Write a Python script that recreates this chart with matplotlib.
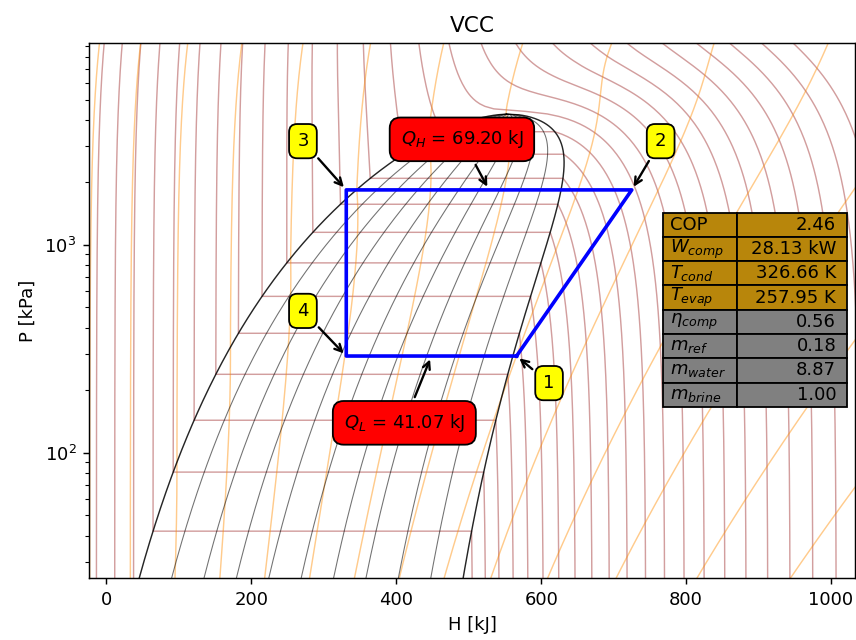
"""
VCC on a propane (R290) P-h chart.

Cycle states / results are read off the reference picture; the background
isolines come from a small Peng-Robinson model of propane.
"""
import numpy as np
import matplotlib
matplotlib.use("Agg")
import matplotlib.pyplot as plt
from matplotlib.table import Table

# ---- cycle (H in kJ, P in kPa), states 1..4 ----
state_h = [566.0, 725.0, 331.0, 331.0]
state_p = [292.0, 1838.0, 1838.0, 292.0]
state_names = ["1", "2", "3", "4"]

q_h_kj = 69.20
q_l_kj = 41.07

table_labels = ["COP", r"$W_{comp}$", r"$T_{cond}$", r"$T_{evap}$",
                r"$\eta_{comp}$", r"$m_{ref}$", r"$m_{water}$", r"$m_{brine}$"]
table_values = ["2.46", "28.13 kW", "326.66 K", "257.95 K",
                "0.56", "0.18", "8.87", "1.00"]

# ---- isoline levels ----
iso_T = [172.7, 186.0, 199.3, 212.6, 225.9, 239.2, 252.5, 265.8, 279.1, 292.4,
         305.7, 319.0, 332.3, 345.6, 358.9, 372.2, 385.5, 398.8, 412.1, 425.4,
         438.7, 452.0, 465.3, 478.6, 491.9, 505.2]                  # K
iso_s = [-0.03, 0.28, 0.585, 0.89, 1.195, 1.5, 1.805, 2.11, 2.415, 2.72,
         3.025, 3.33, 3.635, 3.94, 4.245, 4.55]                      # kJ/kg/K
iso_q = [0.1, 0.2, 0.3, 0.4, 0.5, 0.6, 0.7, 0.8, 0.9]

# ---- Peng-Robinson propane ----
M = 0.0440962
R_GAS = 8.314462618 / M
TC, PC, OMEGA = 369.89, 4.2512e6, 0.1521
AC = 0.45724 * R_GAS**2 * TC**2 / PC
BC = 0.07780 * R_GAS * TC / PC
KAPPA = 0.37464 + 1.54226 * OMEGA - 0.26992 * OMEGA**2
RHO_C = PC / (0.3074 * R_GAS * TC)
S2 = np.sqrt(2.0)

# ideal-gas cp of propane [J/mol/K]
cp_T = [100.0, 200.0, 300.0, 400.0, 500.0, 600.0, 700.0, 800.0]
cp_v = [41.3, 56.1, 73.9, 94.0, 112.6, 128.7, 142.7, 154.8]
c3, c2, c1, c0 = np.polyfit(cp_T, np.array(cp_v) / M, 3)


def h_ig(T):
    return c0 * T + c1 * T**2 / 2 + c2 * T**3 / 3 + c3 * T**4 / 4


def s_ig(T):
    return c0 * np.log(T) + c1 * T + c2 * T**2 / 2 + c3 * T**3 / 3


def h_fix(rho_r):
    # PR puts the critical-region enthalpy too high; pull it back a little
    w = np.where(rho_r > 1, 1.27, 0.59)
    return -28e3 * np.exp(-((rho_r - 1) / w)**2)


def pr_terms(T, P):
    alpha = (1 + KAPPA * (1 - np.sqrt(T / TC)))**2
    a = AC * alpha
    da = -AC * KAPPA * np.sqrt(alpha) / np.sqrt(T * TC)
    return a, da, a * P / (R_GAS * T)**2, BC * P / (R_GAS * T)


def z_roots(A, B):
    comp = np.zeros((A.size, 3, 3))
    comp[:, 0, 0] = 1 - B
    comp[:, 0, 1] = -(A - 3 * B**2 - 2 * B)
    comp[:, 0, 2] = A * B - B**2 - B**3
    comp[:, 1, 0] = 1
    comp[:, 2, 1] = 1
    ev = np.linalg.eigvals(comp)
    ok = (np.abs(ev.imag) < 1e-6) & (ev.real > B[:, None])
    zl = np.where(ok, ev.real, np.inf).min(axis=1)
    zv = np.where(ok, ev.real, -np.inf).max(axis=1)
    return zl, zv


def lnphi(Z, A, B):
    return Z - 1 - np.log(Z - B) - A / (2 * S2 * B) * np.log(
        (Z + (1 + S2) * B) / (Z + (1 - S2) * B))


def props_raw(T, P, phase="stable"):
    T, P = (np.ravel(x).astype(float) for x in np.broadcast_arrays(T, P))
    a, da, A, B = pr_terms(T, P)
    zl, zv = z_roots(A, B)
    if phase == "liq":
        Z = zl
    elif phase == "vap":
        Z = zv
    else:
        Z = np.where(lnphi(zl, A, B) < lnphi(zv, A, B), zl, zv)
    L = np.log((Z + (1 + S2) * B) / (Z + (1 - S2) * B))
    h = h_ig(T) + R_GAS * T * (Z - 1) + (T * da - a) / (2 * S2 * BC) * L
    h = h + h_fix(P / (Z * R_GAS * T) / RHO_C)
    s = (s_ig(T) - R_GAS * np.log(P / 1e5) + R_GAS * np.log(Z - B)
         + da / (2 * S2 * BC) * L)
    return h, s


def psat(T):
    T = np.ravel(T).astype(float)
    P = PC * np.exp(5.373 * (1 + OMEGA) * (1 - TC / T))
    for _ in range(400):
        _, _, A, B = pr_terms(T, P)
        zl, zv = z_roots(A, B)
        P = P * np.exp(lnphi(zl, A, B) - lnphi(zv, A, B))
    return P


# IIR reference: h = 200 kJ/kg, s = 1 kJ/kg/K for saturated liquid at 0 C
_p0 = psat([273.15])
_h0, _s0 = props_raw(273.15, _p0, "liq")
H_OFF, S_OFF = 200e3 - _h0[0], 1e3 - _s0[0]


def props(T, P, phase="stable"):
    h, s = props_raw(T, P, phase)
    return (h + H_OFF) / 1e3, (s + S_OFF) / 1e3


# saturation dome
T_dome = TC - (TC - 165.0) * np.linspace(1, 0, 400)**2
T_dome = T_dome[T_dome < TC - 0.3]
P_dome = psat(T_dome)
hl_dome, sl_dome = props(T_dome, P_dome, "liq")
hv_dome, sv_dome = props(T_dome, P_dome, "vap")
hc = props(TC, PC * 1.0001)[0][0]

P_grid = np.logspace(np.log10(15e3), np.log10(12e6), 240)

fig = plt.figure(figsize=(856 / 130, 640 / 130), dpi=130)
ax = fig.add_axes([0.104, 0.0969, 0.8948, 0.8359])

# isotherms
for T in iso_T:
    if T < TC - 0.3:
        ps = psat([T])[0]
        pv = np.append(P_grid[P_grid < ps], ps)
        pl = np.insert(P_grid[P_grid > ps], 0, ps)
        hv, _ = props(T, pv, "vap")
        hl, _ = props(T, pl, "liq")
        hh = np.concatenate([hv, hl])
        pp = np.concatenate([pv, pl])
    else:
        hh, _ = props(T, P_grid)
        pp = P_grid
    ax.plot(hh, pp / 1e3, color="darkred", alpha=0.38, lw=0.8, zorder=1)

# isentropes
T_grid = np.linspace(100.0, 900.0, 700)
s_lines = np.full((len(iso_s), P_grid.size), np.nan)
for j, P in enumerate(P_grid):
    if P < P_dome[-1]:
        ts = np.interp(np.log(P), np.log(P_dome), T_dome)
        tl = np.append(T_grid[T_grid < ts], ts)
        tv = np.insert(T_grid[T_grid > ts], 0, ts)
        h1, s1 = props(tl, P, "liq")
        h2, s2 = props(tv, P, "vap")
        harr, sarr = np.concatenate([h1, h2]), np.concatenate([s1, s2])
    else:
        harr, sarr = props(T_grid, P)
    s_lines[:, j] = np.interp(iso_s, sarr, harr, left=np.nan, right=np.nan)
for k in range(len(iso_s)):
    ax.plot(s_lines[k], P_grid / 1e3, color="darkorange", alpha=0.45, lw=0.8, zorder=1)

# quality lines and dome
for q in iso_q:
    hq = np.append(hl_dome + q * (hv_dome - hl_dome), hc)
    ax.plot(hq, np.append(P_dome, PC) / 1e3, color="black", alpha=0.55, lw=0.6, zorder=2)
ax.plot(np.concatenate([hl_dome, [hc], hv_dome[::-1]]),
        np.concatenate([P_dome, [PC], P_dome[::-1]]) / 1e3,
        color="black", alpha=0.85, lw=0.8, zorder=2)

# cycle
ax.plot(state_h + state_h[:1], state_p + state_p[:1], color="blue", lw=2, zorder=4)

label_offsets = [(18, -15), (16, 27), (-24, 27), (-24, 25)]
for name, h, p, off in zip(state_names, state_h, state_p, label_offsets):
    ax.annotate(name, xy=(h, p), xytext=off, textcoords="offset points",
                ha="center", va="center", fontsize=10, zorder=6,
                bbox=dict(boxstyle="round,pad=0.45", fc="yellow", ec="black", lw=1),
                arrowprops=dict(arrowstyle="->", color="black", lw=1.3))

top_mid = ((state_h[1] + state_h[2]) / 2, state_p[1])
bot_mid = ((state_h[0] + state_h[3]) / 2, state_p[0])
ax.annotate(rf"$Q_H$ = {q_h_kj:.2f} kJ", xy=top_mid, xytext=(-15, 28),
            textcoords="offset points", ha="center", va="center", fontsize=10, zorder=6,
            bbox=dict(boxstyle="round,pad=0.6", fc="red", ec="black", lw=1),
            arrowprops=dict(arrowstyle="->", color="black", lw=1.3))
ax.annotate(rf"$Q_L$ = {q_l_kj:.2f} kJ", xy=bot_mid, xytext=(-15, -37),
            textcoords="offset points", ha="center", va="center", fontsize=10, zorder=6,
            bbox=dict(boxstyle="round,pad=0.6", fc="red", ec="black", lw=1),
            arrowprops=dict(arrowstyle="->", color="black", lw=1.3))

# results table
tab = Table(ax, bbox=[0.749, 0.320, 0.241, 0.363])
n = len(table_labels)
for r, (lab, val) in enumerate(zip(table_labels, table_values)):
    fc = "darkgoldenrod" if r < 4 else "grey"
    tab.add_cell(r, 0, width=0.4, height=1 / n, text=lab, loc="left", facecolor=fc)
    tab.add_cell(r, 1, width=0.6, height=1 / n, text=val, loc="right", facecolor=fc)
tab.auto_set_font_size(False)
tab.set_fontsize(10)
tab.set_zorder(5)
ax.add_table(tab)

ax.set_yscale("log")
ax.set_xlim(-24, 1033)
ax.set_ylim(25, 9350)
ax.set_xlabel("H [kJ]")
ax.set_ylabel("P [kPa]")
ax.set_title("VCC")

fig.savefig("out.png", dpi=130)
